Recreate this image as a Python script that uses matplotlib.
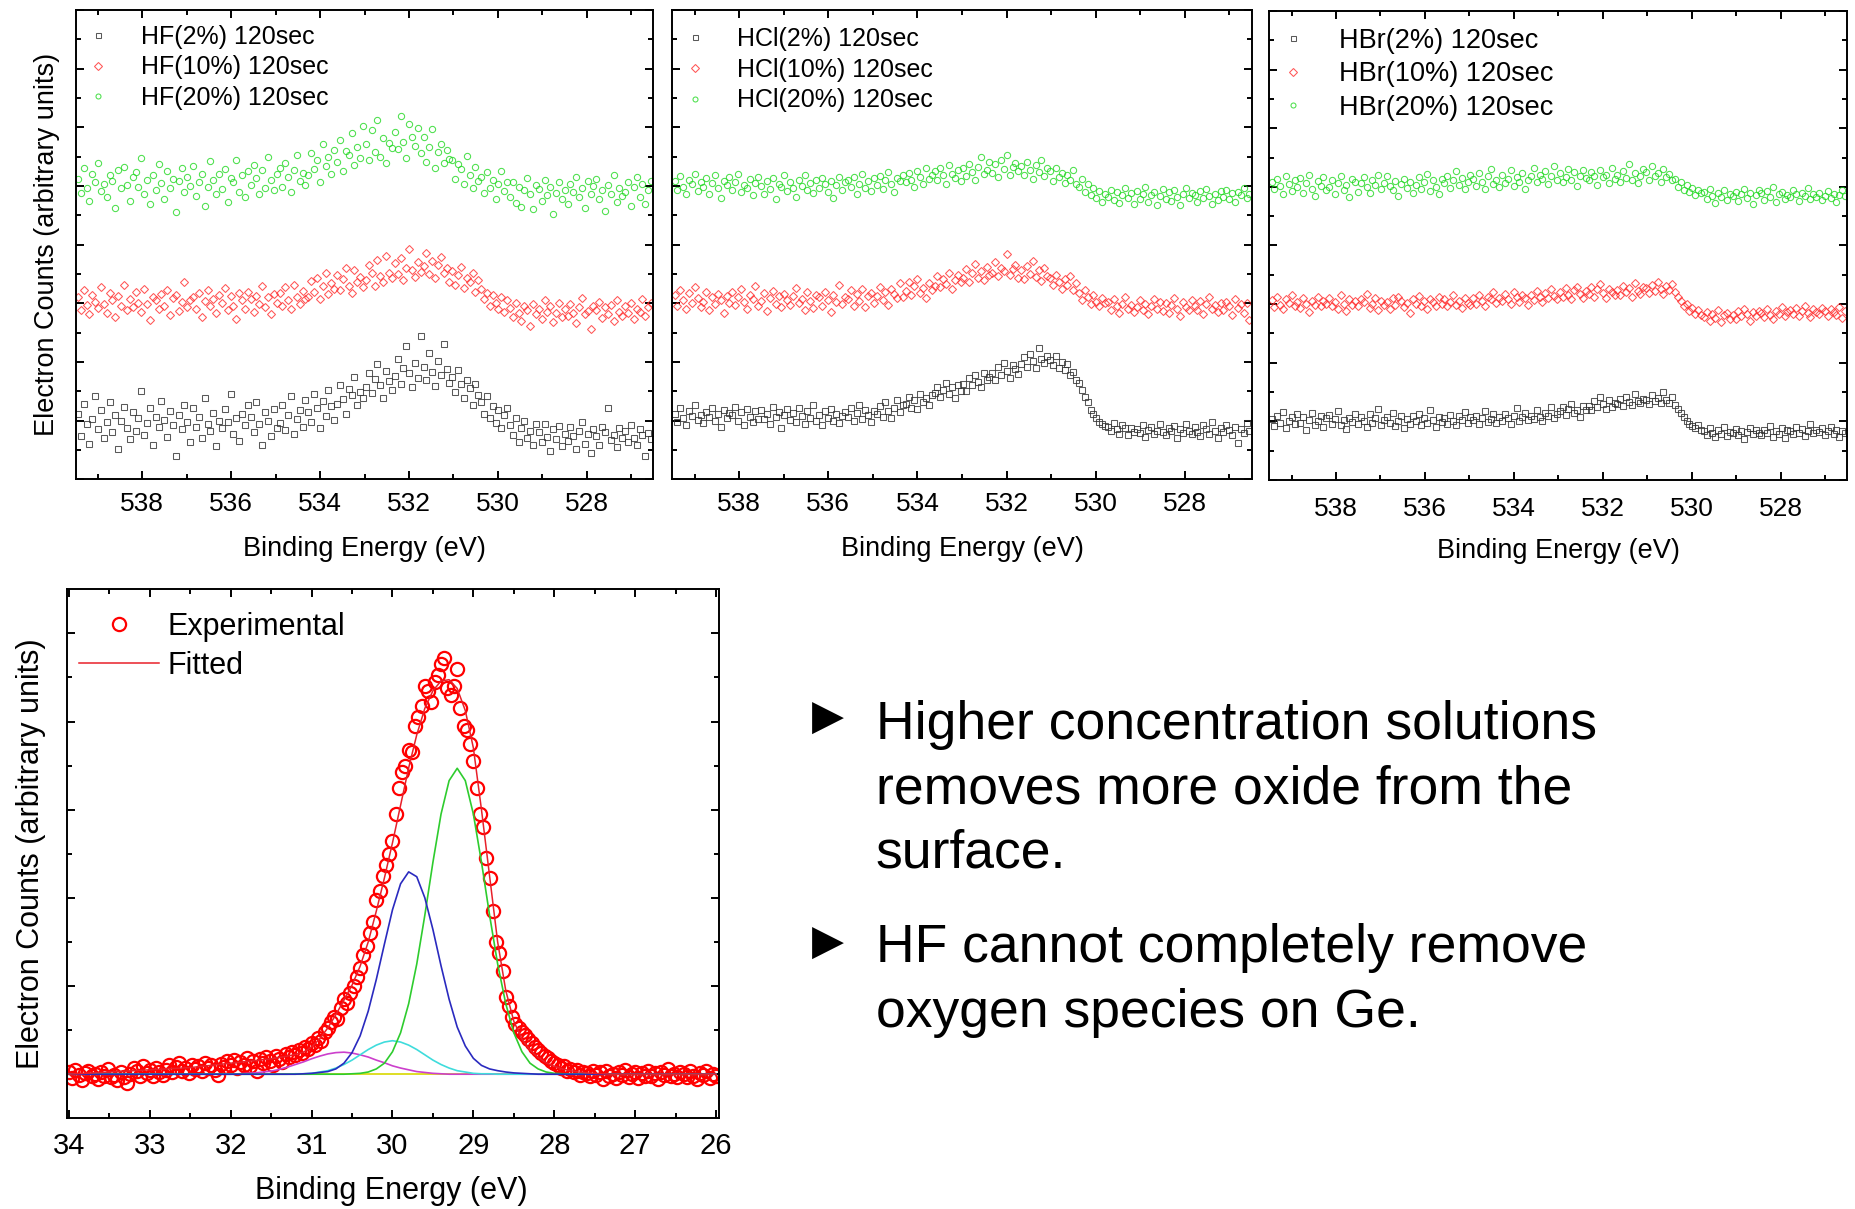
import numpy as np
import matplotlib
matplotlib.use("Agg")
import matplotlib.pyplot as plt
from matplotlib.ticker import MultipleLocator, FixedLocator, NullFormatter

plt.rcParams['font.family'] = ['Liberation Sans', 'DejaVu Sans']

# ---------------- O 1s region: binding energy scan (eV) ----------------
o1s_start, o1s_stop, o1s_points = 539.45, 526.55, 200
o1s_energy = np.linspace(o1s_start, o1s_stop, o1s_points)

# counts (arbitrary units, each concentration offset vertically)
hf2 = [112, 74, 128, 95, 61, 103, 142, 86, 118, 70,
       97, 131, 80, 109, 52, 99, 124, 88, 68, 115,
       83, 104, 150, 76, 96, 121, 58, 107, 89, 134,
       101, 72, 117, 93, 39, 110, 85, 126, 98, 64,
       122, 90, 106, 71, 139, 95, 82, 113, 56, 100,
       87, 119, 97, 145, 78, 104, 66, 111, 92, 127,
       106, 81, 132, 94, 58, 115, 99, 73, 120, 88,
       96, 127, 84, 109, 142, 77, 103, 118, 90, 135,
       114, 98, 146, 121, 87, 133, 108, 152, 125, 101,
       128, 161, 137, 112, 154, 143, 175, 126, 149, 138,
       158, 182, 147, 171, 196, 160, 139, 185, 168, 153,
       176, 205, 163, 190, 228, 181, 157, 199, 172, 244,
       192, 170, 215, 183, 159, 201, 178, 231, 188, 165,
       174, 149, 186, 162, 138, 170, 155, 127, 162, 143,
       131, 112, 142, 104, 125, 96, 118, 87, 109, 122,
       92, 76, 105, 64, 88, 99, 71, 83, 58, 94,
       80, 63, 95, 72, 48, 86, 69, 91, 57, 77,
       66, 89, 74, 52, 83, 97, 61, 78, 44, 85,
       73, 58, 90, 81, 121, 67, 76, 55, 88, 70,
       82, 64, 93, 71, 59, 86, 75, 40, 79, 68]
hf10 = [310, 288, 322, 297, 281, 315, 303, 292, 327, 299,
        284, 318, 305, 276, 312, 296, 331, 289, 307, 294,
        319, 301, 286, 325, 298, 272, 311, 305, 290, 316,
        296, 323, 280, 309, 314, 287, 302, 336, 293, 305,
        311, 290, 318, 277, 304, 322, 295, 308, 283, 315,
        300, 326, 289, 312, 296, 273, 317, 305, 291, 320,
        307, 285, 313, 298, 329, 294, 310, 282, 316, 301,
        318, 296, 327, 305, 290, 332, 311, 299, 321, 308,
        311, 338, 320, 344, 307, 329, 352, 316, 335, 324,
        349, 322, 341, 360, 330, 318, 356, 337, 345, 328,
        340, 366, 351, 329, 374, 346, 337, 381, 352, 343,
        368, 350, 377, 339, 360, 392, 357, 345, 371, 354,
        363, 385, 350, 372, 344, 366, 379, 352, 360, 337,
        355, 331, 348, 362, 326, 343, 336, 351, 320, 340,
        325, 308, 318, 296, 314, 301, 290, 311, 285, 305,
        292, 276, 301, 284, 270, 295, 288, 262, 299, 281,
        290, 273, 305, 286, 296, 268, 283, 300, 277, 291,
        279, 298, 284, 266, 293, 309, 281, 287, 256, 295,
        288, 302, 275, 293, 281, 297, 270, 306, 286, 279,
        296, 283, 301, 274, 290, 285, 307, 278, 293, 300]
hf20 = [512, 488, 530, 497, 475, 521, 506, 540, 492, 503,
        481, 518, 509, 462, 527, 496, 533, 501, 474, 515,
        523, 499, 548, 486, 510, 470, 519, 494, 537, 505,
        478, 526, 497, 512, 455, 508, 531, 489, 516, 500,
        534, 483, 507, 521, 466, 498, 542, 511, 487, 520,
        495, 529, 472, 513, 506, 544, 490, 518, 481, 525,
        502, 536, 514, 486, 528, 497, 549, 511, 493, 520,
        531, 498, 540, 516, 489, 527, 553, 508, 522, 501,
        518, 556, 529, 545, 507, 572, 534, 549, 521, 562,
        541, 578, 526, 560, 553, 590, 535, 567, 548, 603,
        571, 545, 596, 558, 612, 550, 581, 540, 574, 565,
        592, 563, 620, 575, 548, 605, 584, 569, 598, 557,
        583, 541, 566, 597, 530, 558, 572, 539, 561, 546,
        544, 512, 538, 529, 503, 551, 518, 497, 532, 509,
        515, 488, 523, 496, 511, 478, 503, 526, 491, 507,
        482, 506, 471, 498, 465, 493, 514, 487, 460, 502,
        495, 474, 511, 485, 499, 452, 488, 507, 478, 493,
        469, 503, 490, 516, 481, 497, 463, 509, 486, 500,
        512, 478, 494, 458, 501, 486, 519, 473, 496, 483,
        489, 507, 466, 498, 515, 481, 504, 470, 493, 509]

hcl2 = [112, 98, 121, 104, 93, 117, 108, 126, 101, 110,
        96, 115, 107, 122, 99, 111, 89, 118, 105, 113,
        109, 124, 100, 114, 92, 120, 106, 97, 116, 103,
        118, 102, 111, 95, 123, 107, 114, 87, 109, 119,
        101, 113, 97, 121, 108, 94, 116, 105, 126, 99,
        110, 92, 117, 104, 119, 100, 112, 96, 108, 115,
        106, 121, 99, 113, 127, 103, 118, 110, 97, 116,
        112, 125, 106, 131, 117, 104, 122, 136, 114, 127,
        128, 141, 122, 135, 119, 146, 131, 138, 126, 143,
        147, 158, 140, 153, 164, 145, 157, 139, 161, 150,
        163, 151, 172, 160, 178, 166, 158, 181, 169, 175,
        182, 170, 191, 178, 199, 185, 173, 194, 188, 180,
        197, 208, 192, 214, 201, 189, 224, 205, 198, 210,
        203, 195, 211, 189, 200, 186, 196, 178, 183, 170,
        165, 152, 140, 131, 118, 112, 104, 97, 95, 91,
        90, 82, 96, 85, 78, 92, 87, 75, 88, 81,
        86, 79, 93, 72, 84, 90, 77, 83, 95, 80,
        75, 88, 82, 91, 70, 85, 79, 94, 83, 77,
        89, 81, 74, 92, 86, 78, 98, 83, 71, 87,
        80, 93, 84, 76, 90, 62, 85, 79, 96, 82]
hcl10 = [314, 296, 322, 305, 290, 318, 301, 327, 309, 293,
         303, 320, 288, 311, 298, 316, 306, 283, 313, 300,
         319, 297, 310, 325, 302, 291, 315, 307, 329, 295,
         304, 318, 287, 309, 321, 299, 312, 294, 316, 306,
         297, 313, 326, 301, 308, 289, 319, 304, 292, 315,
         310, 295, 320, 306, 285, 314, 302, 331, 299, 311,
         307, 322, 296, 316, 304, 325, 293, 312, 318, 301,
         313, 328, 305, 319, 297, 324, 316, 309, 334, 311,
         321, 337, 315, 329, 342, 318, 326, 309, 335, 323,
         330, 346, 327, 341, 333, 352, 324, 339, 348, 336,
         343, 358, 336, 351, 367, 344, 355, 339, 362, 349,
         352, 370, 346, 361, 355, 384, 349, 358, 366, 343,
         357, 341, 363, 350, 372, 345, 356, 338, 360, 347,
         344, 331, 349, 337, 325, 341, 332, 346, 322, 335,
         318, 305, 323, 311, 298, 315, 303, 296, 309, 300,
         302, 289, 307, 295, 284, 299, 310, 291, 297, 286,
         293, 305, 288, 299, 281, 296, 308, 290, 302, 287,
         300, 284, 297, 309, 291, 278, 303, 294, 288, 306,
         295, 288, 304, 282, 299, 310, 291, 297, 285, 301,
         289, 303, 296, 280, 307, 292, 298, 284, 301, 272]
hcl20 = [508, 494, 517, 499, 486, 511, 503, 521, 492, 506,
         498, 513, 487, 505, 519, 496, 480, 509, 501, 515,
         493, 507, 520, 489, 502, 497, 512, 484, 505, 516,
         500, 486, 509, 495, 513, 478, 504, 498, 518, 491,
         507, 497, 482, 511, 500, 519, 493, 505, 488, 510,
         496, 514, 503, 490, 508, 479, 501, 516, 494, 506,
         511, 499, 515, 487, 504, 520, 497, 509, 492, 513,
         502, 517, 495, 510, 523, 504, 489, 514, 508, 519,
         507, 522, 511, 498, 526, 515, 503, 530, 512, 518,
         525, 510, 531, 519, 504, 536, 521, 514, 528, 509,
         530, 517, 538, 524, 511, 533, 549, 520, 527, 541,
         522, 537, 516, 545, 529, 553, 518, 532, 540, 525,
         534, 519, 541, 527, 512, 536, 523, 544, 517, 530,
         526, 509, 531, 515, 522, 505, 519, 511, 527, 503,
         498, 512, 489, 503, 484, 496, 480, 491, 473, 487,
         482, 494, 476, 489, 471, 485, 497, 479, 488, 470,
         491, 477, 486, 498, 472, 484, 490, 468, 483, 495,
         478, 489, 474, 493, 482, 467, 486, 496, 480, 488,
         485, 472, 491, 479, 495, 483, 469, 487, 476, 492,
         481, 494, 477, 488, 473, 490, 484, 497, 479, 486]

hbr2 = [104, 92, 110, 97, 116, 89, 101, 108, 95, 112,
        98, 107, 86, 103, 114, 94, 100, 109, 91, 105,
        111, 96, 104, 118, 93, 102, 87, 106, 99, 113,
        95, 108, 101, 90, 112, 97, 105, 121, 94, 103,
        107, 98, 115, 92, 101, 109, 88, 104, 96, 110,
        100, 113, 94, 106, 97, 119, 102, 91, 108, 99,
        105, 96, 111, 101, 93, 109, 103, 116, 98, 107,
        102, 110, 95, 106, 118, 99, 104, 112, 97, 108,
        101, 113, 105, 96, 109, 122, 100, 107, 114, 103,
        110, 104, 119, 107, 101, 115, 109, 124, 106, 112,
        117, 125, 111, 121, 130, 114, 119, 108, 126, 120,
        127, 119, 134, 124, 141, 129, 121, 136, 125, 131,
        130, 138, 126, 142, 133, 128, 147, 135, 131, 139,
        137, 129, 145, 134, 140, 132, 150, 136, 131, 142,
        128, 121, 114, 108, 101, 95, 92, 88, 93, 85,
        83, 77, 88, 80, 73, 86, 79, 91, 75, 82,
        80, 87, 76, 84, 70, 82, 89, 78, 85, 81,
        77, 85, 81, 92, 74, 83, 79, 88, 72, 86,
        84, 78, 90, 81, 87, 75, 83, 96, 80, 85,
        82, 88, 76, 84, 91, 79, 86, 73, 83, 80]
hbr10 = [307, 295, 312, 299, 291, 309, 302, 316, 297, 304,
         293, 310, 301, 287, 306, 298, 313, 296, 305, 300,
         311, 297, 304, 292, 315, 301, 289, 308, 299, 306,
         296, 309, 303, 317, 294, 300, 311, 290, 305, 298,
         304, 292, 310, 299, 313, 306, 295, 302, 285, 308,
         300, 314, 297, 305, 291, 309, 303, 296, 312, 301,
         308, 296, 303, 315, 299, 306, 293, 310, 302, 298,
         311, 301, 316, 305, 297, 313, 308, 320, 302, 310,
         306, 318, 309, 300, 321, 313, 304, 316, 311, 298,
         315, 307, 322, 312, 303, 319, 310, 326, 314, 308,
         321, 312, 327, 316, 308, 324, 330, 317, 311, 322,
         318, 329, 313, 325, 334, 319, 311, 326, 321, 316,
         324, 316, 331, 320, 327, 312, 336, 322, 318, 329,
         327, 319, 333, 322, 338, 326, 317, 331, 324, 335,
         320, 312, 305, 296, 300, 289, 293, 284, 290, 281,
         278, 287, 272, 283, 276, 290, 270, 281, 285, 274,
         282, 275, 289, 279, 292, 284, 271, 286, 280, 288,
         285, 278, 291, 282, 274, 289, 283, 295, 279, 286,
         290, 283, 294, 280, 288, 297, 285, 278, 292, 287,
         284, 293, 288, 279, 291, 286, 282, 295, 276, 289]
hbr20 = [509, 496, 514, 501, 488, 518, 505, 493, 511, 499,
         515, 490, 506, 520, 497, 485, 510, 502, 517, 494,
         500, 512, 487, 507, 519, 495, 504, 483, 513, 508,
         492, 506, 516, 499, 489, 511, 503, 521, 496, 507,
         518, 501, 494, 510, 485, 505, 514, 498, 509, 490,
         503, 517, 496, 508, 522, 493, 511, 500, 487, 513,
         506, 519, 498, 512, 527, 503, 515, 496, 509, 521,
         514, 501, 523, 508, 496, 518, 530, 505, 511, 499,
         520, 507, 513, 528, 502, 516, 509, 524, 497, 512,
         518, 532, 509, 521, 514, 527, 505, 519, 536, 511,
         523, 508, 517, 530, 512, 526, 502, 519, 528, 515,
         511, 525, 518, 504, 529, 516, 521, 507, 533, 514,
         520, 509, 527, 515, 539, 512, 524, 506, 518, 531,
         526, 512, 535, 519, 523, 508, 530, 517, 522, 511,
         513, 500, 508, 495, 503, 491, 498, 486, 494, 489,
         491, 480, 496, 485, 473, 489, 482, 494, 478, 487,
         484, 492, 476, 488, 497, 481, 490, 471, 486, 495,
         489, 478, 493, 483, 499, 475, 487, 491, 480, 486,
         482, 494, 487, 476, 490, 485, 498, 479, 488, 483,
         490, 477, 485, 493, 481, 488, 474, 486, 495, 484]

o1s_panels = [
    ("HF", [hf2, hf10, hf20]),
    ("HCl", [hcl2, hcl10, hcl20]),
    ("HBr", [hbr2, hbr10, hbr20]),
]
concentrations = ["2%", "10%", "20%"]
etch_time = "120sec"

# ---------------- Ge 3d region: measured points and peak fit ----------------
ge_energy = np.linspace(34.0, 26.0, 201)
ge_counts = [1.05, 0.92, 1.10, 0.98, 0.88, 1.02, 1.08, 0.95, 1.00, 0.90,
             1.04, 0.96, 1.12, 0.94, 0.99, 0.87, 1.06, 0.93, 0.80, 1.01,
             1.15, 1.08, 0.97, 1.18, 1.02, 1.09, 0.95, 1.13, 1.04, 0.98,
             1.10, 1.20, 1.05, 1.16, 1.25, 1.08, 1.14, 1.02, 1.22, 1.11,
             1.18, 1.07, 1.26, 1.15, 1.21, 1.10, 0.98, 1.24, 1.17, 1.30,
             1.20, 1.33, 1.14, 1.27, 1.22, 1.36, 1.18, 1.29, 1.08, 1.34,
             1.25, 1.38, 1.30, 1.22, 1.42, 1.35, 1.28, 1.45, 1.38, 1.50,
             1.44, 1.55, 1.48, 1.62, 1.58, 1.70, 1.66, 1.82, 1.75, 1.95,
             2.05, 2.18, 2.30, 2.25, 2.50, 2.70, 2.62, 2.85, 3.00, 3.20,
             3.40, 3.70, 3.90, 4.20, 4.45, 4.95, 5.15, 5.50, 5.75, 6.00,
             6.30, 6.90, 7.50, 7.85, 8.00, 8.35, 8.30, 8.90, 9.10, 9.35,
             9.80, 9.70, 9.45, 9.90, 10.05, 10.30, 10.45, 9.75, 9.60, 9.80,
             10.20, 9.30, 8.90, 8.80, 8.50, 8.10, 7.50, 6.90, 6.60, 5.90,
             5.45, 4.70, 4.00, 3.75, 3.35, 2.75, 2.55, 2.30, 2.15, 2.05,
             1.95, 1.88, 1.80, 1.70, 1.62, 1.55, 1.48, 1.42, 1.36, 1.30,
             1.25, 1.22, 1.15, 1.18, 1.08, 1.12, 1.05, 1.10, 0.98, 1.06,
             1.02, 0.95, 1.08, 0.99, 1.04, 0.90, 1.07, 0.96, 1.01, 0.92,
             1.05, 0.98, 1.10, 0.94, 1.00, 1.06, 0.91, 1.03, 0.97, 1.08,
             0.95, 1.02, 0.89, 1.04, 0.99, 1.11, 0.96, 1.00, 0.93, 1.06,
             1.01, 0.94, 1.08, 0.97, 0.90, 1.03, 0.99, 1.07, 0.92, 1.00, 0.96]

fit_energy = np.linspace(34.0, 26.0, 81)
fit_envelope = [1.00, 1.01, 1.02, 1.03, 1.04, 1.05, 1.06, 1.07, 1.08, 1.09,
                1.10, 1.11, 1.12, 1.13, 1.14, 1.15, 1.17, 1.19, 1.21, 1.23,
                1.25, 1.27, 1.29, 1.31, 1.33, 1.35, 1.38, 1.41, 1.45, 1.50,
                1.62, 1.80, 2.05, 2.35, 2.68, 3.02, 3.45, 4.00, 4.70, 5.45,
                6.25, 7.10, 7.95, 8.70, 9.30, 9.70, 9.92, 9.95, 9.75, 9.25,
                8.40, 7.00, 5.50, 4.00, 2.90, 2.20, 1.80, 1.55, 1.38, 1.26,
                1.18, 1.12, 1.08, 1.05, 1.03, 1.02, 1.01, 1.00, 1.00, 1.00,
                1.00, 1.00, 1.00, 1.00, 1.00, 1.00, 1.00, 1.00, 1.00, 1.00, 1.00]

background_level = 1.0
comp_energy = np.linspace(32.0, 27.6, 45)
comp_ge = [0, 0, 0, 0, 0, 0, 0, 0, 0, 0, 0, 0, 0, 0, 0,
           0.01, 0.02, 0.05, 0.12, 0.25, 0.51, 0.94, 1.60, 2.50, 3.61, 4.81, 5.90, 6.66,
           6.94, 6.66, 5.90, 4.81, 3.61, 2.50, 1.60, 0.94, 0.51, 0.25, 0.12, 0.05, 0.02, 0.01,
           0, 0, 0]
comp_geox1 = [0, 0, 0, 0, 0, 0, 0, 0, 0,
              0.01, 0.02, 0.04, 0.06, 0.12, 0.25, 0.49, 0.87, 1.43, 2.15, 2.95, 3.73, 4.32, 4.59,
              4.48, 4.00, 3.28, 2.46, 1.70, 1.07, 0.64, 0.36, 0.20, 0.12, 0.08, 0.05, 0.03, 0.02, 0.01,
              0, 0, 0, 0, 0, 0, 0]
comp_geox2 = [0, 0, 0, 0, 0, 0, 0, 0,
              0.01, 0.01, 0.02, 0.05, 0.08, 0.14, 0.22, 0.32, 0.44, 0.56, 0.66, 0.73, 0.76,
              0.73, 0.66, 0.56, 0.44, 0.32, 0.22, 0.14, 0.08, 0.05, 0.02, 0.01, 0.01,
              0, 0, 0, 0, 0, 0, 0, 0, 0, 0, 0, 0]
comp_geox3 = [0, 0.01, 0.02, 0.03, 0.05, 0.07, 0.11, 0.16, 0.22, 0.28, 0.35, 0.41, 0.46, 0.49,
              0.50, 0.48, 0.44, 0.39, 0.32, 0.26, 0.19, 0.14, 0.10, 0.06, 0.04, 0.02, 0.01,
              0, 0, 0, 0, 0, 0, 0, 0, 0, 0, 0, 0, 0, 0, 0, 0, 0, 0]
component_colors = {'ge': '#2ecc2e', 'ox1': '#2a2abf', 'ox2': '#3fdcdc', 'ox3': '#cc3fcc'}

# ---------------- figure ----------------
W, H = 1855, 1209
fig = plt.figure(figsize=(W / 100, H / 100), dpi=100)


def frac(left, top, right, bottom):
    return [left / W, 1 - bottom / H, (right - left) / W, (bottom - top) / H]


def style_axes(ax, labelsize, pad):
    for sp in ax.spines.values():
        sp.set_linewidth(1.4)
    ax.tick_params(which='both', direction='in', top=True, right=True,
                   width=1.4, labelsize=labelsize, pad=pad)
    ax.tick_params(which='major', length=6)
    ax.tick_params(which='minor', length=3.5)
    ax.yaxis.set_major_formatter(NullFormatter())
    ax.yaxis.set_minor_formatter(NullFormatter())


panel_boxes = [(75.7, 10, 653.3, 479.3), (672.3, 10, 1251.7, 479.3), (1269.3, 11, 1847.3, 480)]
legend_sizes = [18, 18, 19.5]
legend_tops = [0.969, 0.964, 0.964]
tick_pads = [9.5, 9.5, 12]
xlabel_y = [-0.149, -0.149, -0.152]
series_styles = [('s', '#303030', 4.3), ('D', '#ff2b2b', 4.0), ('o', '#1fd81f', 4.5)]

for k, ((acid, series), box) in enumerate(zip(o1s_panels, panel_boxes)):
    ax = fig.add_axes(frac(*box))
    for (marker, color, ms), conc, counts in zip(series_styles, concentrations, series):
        ax.plot(o1s_energy, counts, ls='none', marker=marker, ms=ms, mfc='none',
                mec=color, mew=0.75, alpha=0.8, label=f"{acid}({conc}) {etch_time}")
    ax.set_xlim(539.5, 526.5)
    ax.set_ylim(0, 800)
    ax.xaxis.set_major_locator(MultipleLocator(2))
    ax.xaxis.set_minor_locator(MultipleLocator(1))
    ax.yaxis.set_major_locator(MultipleLocator(100))
    ax.yaxis.set_minor_locator(MultipleLocator(50))
    style_axes(ax, 19, tick_pads[k])
    ax.set_xlabel("Binding Energy (eV)", fontsize=19.5, va='center')
    ax.xaxis.set_label_coords(0.5, xlabel_y[k])
    if k == 0:
        ax.set_ylabel("Electron Counts (arbitrary units)", fontsize=19.5,
                      va='center', ha='center')
        ax.yaxis.set_label_coords(-0.049, 0.5)
    leg = ax.legend(loc='upper left', bbox_to_anchor=(0.017, legend_tops[k]), frameon=False,
                    fontsize=legend_sizes[k], handlelength=1.0, handletextpad=1.2,
                    labelspacing=0.27, borderpad=0, borderaxespad=0, numpoints=1)
    for h in leg.legend_handles:
        h.set_markersize(3.6)

# Ge 3d fit panel
axb = fig.add_axes(frac(66.7, 589.3, 719, 1118.3))
axb.plot(ge_energy, ge_counts, ls='none', marker='o', ms=9.5, mfc='none',
         mec='#ff0000', mew=1.6, label='Experimental', zorder=2)
axb.plot([34.0, 26.0], [background_level, background_level], color='#d8d800', lw=1.2, zorder=3)
comp_x = np.r_[34.0, comp_energy, 26.0]
for comp, key in [(comp_geox3, 'ox3'), (comp_geox2, 'ox2'), (comp_ge, 'ge'), (comp_geox1, 'ox1')]:
    axb.plot(comp_x, np.r_[0.0, comp, 0.0] + background_level,
             color=component_colors[key], lw=1.2, zorder=4)
axb.plot(fit_energy, fit_envelope, color='#e8202a', lw=1.1, label='Fitted', zorder=5)
axb.set_xlim(34.027, 25.964)
axb.set_ylim(0, 12)
axb.xaxis.set_major_locator(MultipleLocator(1))
axb.xaxis.set_minor_locator(MultipleLocator(0.5))
axb.yaxis.set_major_locator(FixedLocator([1, 3, 5, 7, 9, 11]))
axb.yaxis.set_minor_locator(FixedLocator([2, 4, 6, 8, 10]))
style_axes(axb, 21, 9.6)
axb.set_xlabel("Binding Energy (eV)", fontsize=22, va='center')
axb.xaxis.set_label_coords(0.498, -0.138)
axb.set_ylabel("Electron Counts (arbitrary units)", fontsize=22, va='center', ha='center')
axb.yaxis.set_label_coords(-0.0552, 0.5)
axb.legend(loc='upper left', bbox_to_anchor=(0.0193, 0.957), frameon=False, fontsize=22,
           handlelength=2.6, handletextpad=0.28, labelspacing=0.28, borderpad=0,
           borderaxespad=0, numpoints=1)

# Bullet notes
bullet_x, text_x = 828 / W, 875.5 / W
notes = [
    (718, ["Higher concentration solutions", "removes more oxide from the", "surface."], [739, 803, 867]),
    (943, ["HF cannot completely remove", "oxygen species on Ge."], [962, 1027]),
]
for bullet_y, lines, baselines in notes:
    fig.text(bullet_x, 1 - bullet_y / H, "\u25B6", fontsize=30, ha='center', va='center',
             family=['DejaVu Sans'])
    for line, base in zip(lines, baselines):
        fig.text(text_x, 1 - base / H, line, fontsize=38.5, ha='left', va='baseline')

fig.savefig("out.png", dpi=100)
